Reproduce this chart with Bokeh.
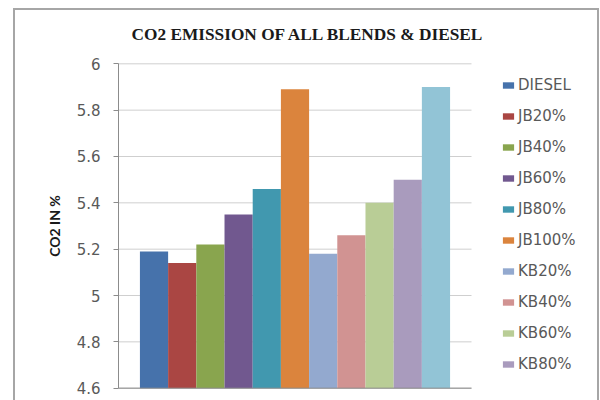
from bokeh.plotting import figure
from bokeh.models import (Range1d, Legend, LegendItem, FixedTicker, InlineStyleSheet,
                          ColumnDataSource, CustomJSTickFormatter)
from bokeh.embed import file_html
from bokeh.resources import INLINE

# CO2 emission (%) for diesel and each biodiesel blend
blends = ["DIESEL", "JB20%", "JB40%", "JB60%", "JB80%", "JB100%",
          "KB20%", "KB40%", "KB60%", "KB80%", "KB100%"]
co2 = [5.19, 5.14, 5.22, 5.35, 5.46, 5.89, 5.18, 5.26, 5.40, 5.50, 5.90]
colors = ["#4672AB", "#AA4643", "#89A54E", "#71588F", "#4198AF", "#DB843D",
          "#93A9CF", "#D19392", "#B9CD96", "#A99BBD", "#92C4D6"]
y_ticks = [4.6, 4.8, 5.0, 5.2, 5.4, 5.6, 5.8, 6.0]
legend_entries = 10  # entries that fit in the legend box

n = len(blends)
pad = 0.76                      # gap either side of the bar group, in bar widths
plot_left, plot_right, frame_right = 118, 471, 598   # pixels
units_per_px = (n + 2 * pad) / (plot_right - plot_left)
x_start = -pad
x_end = -pad + (frame_right - plot_left) * units_per_px
y_margin = 0.01

source = ColumnDataSource(dict(
    x=[i + 0.5 for i in range(n)],
    top=co2,
    color=colors,
    name=blends,
))

# grey frame round the whole chart area
frame_css = InlineStyleSheet(css="""
:host { position: relative; }
:host::after {
  content: "";
  position: absolute;
  left: 13px; top: 8px; width: 586px; height: 420px;
  border: 2px solid #a6a6a6;
  box-sizing: border-box;
  pointer-events: none;
}
""")

p = figure(width=600, height=400, output_backend="svg", toolbar_location=None,
           x_range=Range1d(x_start, x_end),
           y_range=Range1d(y_ticks[0] - y_margin, y_ticks[-1] + y_margin),
           min_border_left=plot_left, min_border_right=600 - frame_right,
           min_border_top=61, min_border_bottom=10,
           stylesheets=[frame_css])
p.outline_line_color = None
p.background_fill_color = "white"
p.border_fill_color = "white"

p.title.text = "CO2 EMISSION OF ALL BLENDS & DIESEL"
p.title.text_font = "Liberation Serif"
p.title.text_font_size = "17.3px"
p.title.text_font_style = "bold"
p.title.text_color = "#1a1a1a"
p.title.align = "left"
p.title.offset = 13
p.title.standoff = 36

# horizontal grid lines across the bar area only
p.segment(x0=x_start, x1=n + pad, y0=y_ticks, y1=y_ticks,
          line_color="#cfcfcf", line_width=1)

bars = p.vbar(x="x", top="top", bottom=y_ticks[0], width=1.0, source=source,
              fill_color="color", line_color=None)

# category axis baseline
p.segment(x0=[x_start], x1=[n + pad], y0=[y_ticks[0]], y1=[y_ticks[0]],
          line_color="#8c8c8c", line_width=1)

# y axis
p.yaxis.ticker = FixedTicker(ticks=y_ticks)
p.yaxis.bounds = (y_ticks[0], y_ticks[-1])
p.yaxis.formatter = CustomJSTickFormatter(
    code="return tick.toFixed(1).replace(/\\.0$/, '');")
p.yaxis.axis_label = "CO2 IN %"
p.yaxis.axis_label_text_font = "Lato"
p.yaxis.axis_label_text_font_size = "14px"
p.yaxis.axis_label_text_font_style = "bold"
p.yaxis.axis_label_text_color = "#1a1a1a"
p.yaxis.axis_label_standoff = 11
p.yaxis.major_label_text_font = "DejaVu Sans"
p.yaxis.major_label_text_font_size = "15px"
p.yaxis.major_label_text_color = "#595959"
p.yaxis.major_label_standoff = 13
p.yaxis.axis_line_color = "#8c8c8c"
p.yaxis.major_tick_line_color = "#8c8c8c"
p.yaxis.major_tick_out = 5
p.yaxis.major_tick_in = 0
p.yaxis.minor_tick_line_color = None

p.xaxis.visible = False
p.xgrid.visible = False
p.ygrid.visible = False

legend = Legend(
    items=[LegendItem(label=blends[i], renderers=[bars], index=i)
           for i in range(legend_entries)],
    location=(383, 16),
    orientation="vertical",
    glyph_width=14, glyph_height=8,
    label_height=20, spacing=11, label_standoff=3,
    label_text_font="DejaVu Sans", label_text_font_size="15px",
    label_text_color="#595959",
    padding=0, margin=0,
    border_line_color=None, background_fill_alpha=0,
)
p.add_layout(legend, "center")

open("out.html", "w").write(file_html(p, INLINE))
